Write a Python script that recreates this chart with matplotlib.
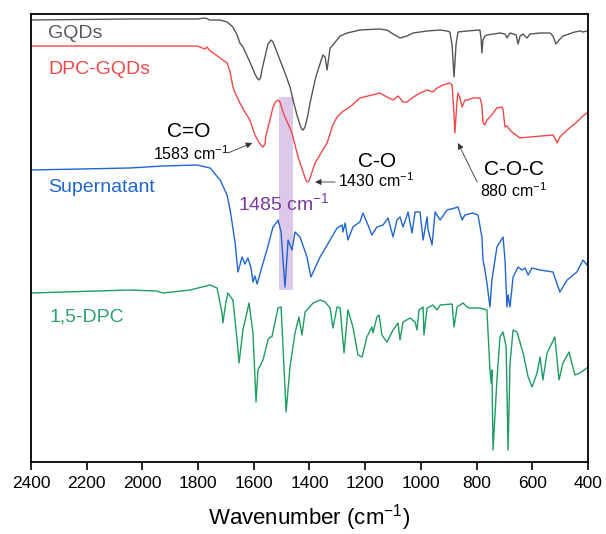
import matplotlib
matplotlib.use("Agg")
import matplotlib.pyplot as plt
from matplotlib.patches import Rectangle

plt.rcParams['font.family'] = ['Liberation Sans', 'DejaVu Sans']
plt.rcParams['mathtext.fontset'] = 'custom'
plt.rcParams['mathtext.rm'] = 'Liberation Sans'
plt.rcParams['mathtext.it'] = 'Liberation Sans:italic'

# ---------------- data (wavenumber, cm-1 ; offset transmittance, a.u.) ----------------
gqd_wn = [2400, 2045, 1804, 1775, 1757, 1721, 1696, 1675, 1660, 1650, 1639, 1614, 1596, 1588,
          1581, 1575, 1571, 1560, 1549, 1538, 1531, 1517, 1506, 1488, 1470, 1459, 1445, 1434,
          1428, 1423, 1416, 1405, 1398, 1380, 1373, 1352, 1344, 1337, 1326, 1316, 1290, 1265,
          1219, 1150, 1122, 1100, 1075, 1050, 1028, 978, 931, 906, 896, 888, 881, 874, 867, 834,
          788, 784, 781, 777, 770, 763, 716, 698, 691, 680, 658, 651, 644, 633, 619, 608, 572,
          536, 526, 515, 504, 490, 468, 447, 429, 418, 404, 400]
gqd_t = [442, 443, 443, 444, 442, 442, 440, 435, 427, 419, 415, 400, 388, 384,
         382, 385, 392, 405, 418, 422, 420, 410, 402, 389, 375, 362, 347, 337,
         333, 332, 335, 348, 359, 382, 389, 407, 405, 392, 414, 417, 426, 429,
         432, 433, 432, 428, 424, 426, 429, 431, 432, 431, 430, 417, 385, 417, 430, 431,
         432, 424, 409, 422, 426, 427, 429, 428, 424, 429, 427, 418, 426, 428, 424, 428, 429,
         429, 426, 418, 422, 426, 428, 430, 431, 430, 431, 431]

dpc_gqd_wn = [2400, 2045, 1804, 1775, 1768, 1757, 1746, 1721, 1696, 1685, 1675, 1667, 1650, 1632,
              1614, 1596, 1580, 1571, 1567, 1560, 1556, 1542, 1531, 1522, 1513, 1506, 1495, 1488,
              1470, 1463, 1441, 1423, 1416, 1409, 1402, 1398, 1380, 1352, 1337, 1316, 1301, 1283,
              1255, 1219, 1176, 1147, 1122, 1100, 1082, 1064, 1050, 1032, 1003, 978, 957, 942,
              921, 896, 888, 881, 878, 870, 867, 860, 852, 842, 834, 813, 788, 781, 777, 770, 763,
              752, 727, 709, 705, 698, 691, 680, 669, 644, 608, 526, 515, 511, 501, 475, 440, 418,
              404, 400]
dpc_gqd_t = [416, 416, 416, 413, 415, 411, 409, 404, 399, 390, 375, 369, 359, 350,
             342, 327, 319, 316, 315, 318, 327, 342, 355, 360, 362, 360, 350, 345,
             334, 329, 305, 290, 284, 280, 281, 284, 299, 312, 319, 337, 345, 350,
             355, 364, 367, 369, 365, 362, 366, 360, 360, 364, 369, 372, 370, 374,
             377, 379, 377, 347, 329, 362, 369, 364, 355, 362, 362, 364, 364, 357, 339, 337, 342,
             345, 354, 355, 352, 335, 336, 332, 329, 324, 325, 327, 322, 319, 325, 332, 340, 346,
             349, 350]

sup_wn = [2400, 2045, 1926, 1804, 1757, 1721, 1696, 1685, 1667, 1657, 1642, 1632, 1621, 1610,
          1603, 1596, 1588, 1571, 1553, 1531, 1517, 1513, 1502, 1499, 1488, 1477, 1463, 1452,
          1434, 1409, 1395, 1362, 1326, 1301, 1283, 1280, 1272, 1262, 1244, 1219, 1208, 1190,
          1176, 1158, 1136, 1118, 1100, 1086, 1075, 1064, 1046, 1032, 1021, 1003, 992, 978,
          974, 960, 949, 931, 906, 878, 867, 852, 842, 813, 795, 781, 777, 770, 763, 752, 745,
          727, 705, 698, 691, 687, 680, 669, 651, 637, 626, 615, 601, 572, 526, 501, 475, 440,
          418, 404, 400]
sup_t = [292, 294, 296, 297, 294, 282, 267, 252, 219, 190, 205, 198, 204, 194,
         180, 186, 178, 195, 212, 235, 240, 242, 230, 217, 175, 222, 212, 230,
         225, 205, 185, 205, 222, 234, 237, 230, 239, 222, 235, 240, 249, 237,
         227, 235, 237, 244, 225, 242, 245, 235, 250, 229, 250, 250, 222, 245,
         232, 217, 250, 242, 252, 254, 255, 242, 247, 249, 247, 225, 202, 192, 179, 155, 182,
         215, 225, 202, 155, 167, 155, 185, 195, 192, 194, 187, 194, 192, 190, 170, 182, 190,
         202, 197, 200]

dpc_wn = [2400, 2045, 1950, 1926, 1829, 1757, 1732, 1714, 1711, 1700, 1693, 1675, 1660, 1653,
          1639, 1617, 1603, 1592, 1585, 1567, 1549, 1542, 1535, 1513, 1502, 1484, 1470, 1452,
          1438, 1427, 1416, 1387, 1362, 1344, 1326, 1316, 1301, 1290, 1276, 1262, 1244, 1226,
          1211, 1194, 1176, 1172, 1158, 1150, 1140, 1122, 1100, 1082, 1075, 1064, 1039, 1021,
          1014, 1007, 992, 989, 978, 957, 942, 931, 888, 881, 870, 849, 834, 824, 788, 763,
          752, 748, 745, 741, 727, 716, 705, 694, 687, 680, 669, 655, 633, 615, 601, 583, 572,
          562, 547, 519, 504, 490, 468, 447, 429, 404, 400]
dpc_t = [169, 172, 171, 169, 172, 177, 174, 149, 139, 160, 169, 162, 122, 99,
         132, 159, 129, 60, 92, 102, 122, 125, 125, 154, 155, 50, 95, 129,
         145, 127, 150, 159, 162, 160, 154, 134, 155, 154, 109, 152, 135, 107,
         105, 125, 135, 129, 145, 147, 127, 120, 132, 139, 122, 140, 144, 140,
         132, 152, 155, 127, 154, 157, 152, 157, 158, 135, 155, 159, 155, 154, 154, 152,
         92, 79, 92, 12, 82, 125, 130, 115, 12, 99, 132, 130, 109, 85, 75, 89, 105,
         82, 109, 125, 82, 99, 110, 87, 89, 94, 95]

series_names = ["GQDs", "DPC-GQDs", "Supernatant", "1,5-DPC"]
series_colors = ["#555555", "#F24848", "#1F66D1", "#1E9C62"]
label_colors = ["#5A5A5A", "#F24848", "#1F66D1", "#2EA36C"]

x_ticks = [2400, 2200, 2000, 1800, 1600, 1400, 1200, 1000, 800, 600, 400]
band = (1459, 1510, 172, 365)   # wn_lo, wn_hi, t_lo, t_hi (1485 cm-1 highlight)

# ---------------- figure ----------------
fig = plt.figure(figsize=(6.06, 5.34), dpi=100)
ax = fig.add_axes([31 / 606, 1 - 462 / 534, (588 - 31) / 606, (462 - 14) / 534])

ax.add_patch(Rectangle((band[0], band[2]), band[1] - band[0], band[3] - band[2],
                       facecolor="#DCC8E8", edgecolor="none", zorder=1))

data = [(gqd_wn, gqd_t), (dpc_gqd_wn, dpc_gqd_t), (sup_wn, sup_t), (dpc_wn, dpc_t)]
for (wn, t), c in zip(data, series_colors):
    ax.plot(wn, t, color=c, lw=1.0, zorder=2, solid_joinstyle="round")

ax.set_xlim(2400, 400)
ax.set_ylim(0, 448)
ax.set_xticks(x_ticks)
ax.set_xticklabels([str(v) for v in x_ticks], fontsize=12.5)
ax.set_yticks([])
ax.tick_params(axis="x", direction="out", length=6, width=1.2, pad=4)
for s in ax.spines.values():
    s.set_linewidth(1.3)
ax.set_xlabel(r"Wavenumber (cm$^{\mathregular{-1}}$)", fontsize=16, labelpad=8)

# series labels
ax.text(2339, 429, series_names[0], color=label_colors[0], fontsize=14, va="center", ha="left")
ax.text(2339, 393, series_names[1], color=label_colors[1], fontsize=14, va="center", ha="left")
ax.text(2339, 274, series_names[2], color=label_colors[2], fontsize=14, va="center", ha="left")
ax.text(2332, 145, series_names[3], color=label_colors[3], fontsize=14, va="center", ha="left")

# peak annotations
ax.text(1833, 325, "C=O", fontsize=15, ha="center", va="baseline")
ax.text(1827, 302, r"1583 cm$^{\mathregular{-1}}$", fontsize=11.5, ha="center", va="baseline")
ax.text(1158, 295, "C-O", fontsize=15, ha="center", va="baseline")
ax.text(1298, 275, r"1430 cm$^{\mathregular{-1}}$", fontsize=11.5, ha="left", va="baseline")
ax.text(666, 287, "C-O-C", fontsize=15, ha="center", va="baseline")
ax.text(666, 265, r"880 cm$^{\mathregular{-1}}$", fontsize=11.5, ha="center", va="baseline")
ax.text(1657, 252, r"1485 cm$^{\mathregular{-1}}$", fontsize=14, color="#7A3A9E",
        ha="left", va="baseline")

arrow = dict(arrowstyle="-|>", color="#333333", lw=0.6, mutation_scale=9, shrinkA=0, shrinkB=0)
ax.annotate("", xy=(1606, 319), xytext=(1693, 309), arrowprops=arrow)
ax.annotate("", xy=(1380, 280), xytext=(1308, 280), arrowprops=arrow)
ax.annotate("", xy=(867, 319), xytext=(798, 280), arrowprops=arrow)

fig.savefig("out.png", dpi=100)
